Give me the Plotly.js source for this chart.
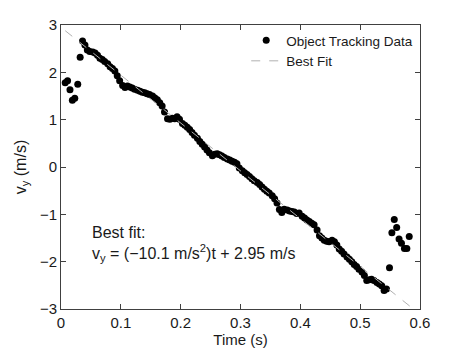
<!DOCTYPE html>
<html>
<head>
<meta charset="utf-8">
<script src="https://cdn.plot.ly/plotly-3.0.1.min.js"></script>
<style>
  html, body { margin: 0; padding: 0; background: #fff; }
  #plot { width: 464px; height: 349px; }
</style>
</head>
<body>
<div id="plot"></div>
<script>
// time (s) of each tracked frame
var time = [
	0.007, 0.011, 0.015, 0.019, 0.023, 0.028, 0.032, 0.036, 0.040, 0.044,
	0.048, 0.053, 0.057, 0.061, 0.065, 0.069, 0.073, 0.078, 0.082, 0.086,
	0.090, 0.094, 0.098, 0.103, 0.107, 0.111, 0.115, 0.119, 0.123, 0.128,
	0.132, 0.136, 0.140, 0.144, 0.148, 0.153, 0.157, 0.161, 0.165, 0.169,
	0.173, 0.178, 0.182, 0.186, 0.190, 0.194, 0.198, 0.203, 0.207, 0.211,
	0.215, 0.219, 0.223, 0.228, 0.232, 0.236, 0.240, 0.244, 0.248, 0.253,
	0.257, 0.261, 0.265, 0.269, 0.273, 0.278, 0.282, 0.286, 0.290, 0.294,
	0.298, 0.303, 0.307, 0.311, 0.315, 0.319, 0.323, 0.328, 0.332, 0.336,
	0.340, 0.344, 0.348, 0.353, 0.357, 0.361, 0.365, 0.369, 0.373, 0.378,
	0.382, 0.386, 0.390, 0.394, 0.398, 0.403, 0.407, 0.411, 0.415, 0.419,
	0.423, 0.428, 0.432, 0.436, 0.440, 0.444, 0.448, 0.453, 0.457, 0.461,
	0.465, 0.469, 0.473, 0.478, 0.482, 0.486, 0.490, 0.494, 0.498, 0.503,
	0.507, 0.511, 0.515, 0.519, 0.523, 0.528, 0.532, 0.536, 0.540, 0.544,
	0.549, 0.553, 0.557, 0.561, 0.565, 0.569, 0.574, 0.578, 0.582
];

// vertical velocity (m/s)
var vy = [
	1.78, 1.82, 1.63, 1.41, 1.45, 1.75, 2.32, 2.66, 2.58, 2.47,
	2.44, 2.43, 2.41, 2.36, 2.30, 2.27, 2.23, 2.18, 2.12, 2.08,
	2.03, 1.93, 1.82, 1.72, 1.68, 1.71, 1.69, 1.67, 1.64, 1.62,
	1.60, 1.58, 1.57, 1.55, 1.53, 1.50, 1.46, 1.42, 1.36, 1.29,
	1.16, 1.02, 1.01, 1.03, 1.02, 1.06, 1.01, 0.92, 0.88, 0.84,
	0.79, 0.73, 0.67, 0.61, 0.54, 0.48, 0.42, 0.36, 0.30, 0.24,
	0.27, 0.28, 0.26, 0.23, 0.20, 0.17, 0.15, 0.12, 0.10, 0.07,
	-0.02, -0.08, -0.12, -0.16, -0.20, -0.25, -0.29, -0.33, -0.37, -0.42,
	-0.47, -0.51, -0.55, -0.61, -0.67, -0.76, -0.90, -0.96, -0.89, -0.91,
	-0.93, -0.94, -0.95, -0.98, -0.97, -1.04, -1.08, -1.12, -1.15, -1.19,
	-1.22, -1.33, -1.45, -1.50, -1.55, -1.57, -1.58, -1.55, -1.58, -1.65,
	-1.73, -1.78, -1.84, -1.90, -1.95, -2.00, -2.06, -2.10, -2.16, -2.22,
	-2.29, -2.40, -2.38, -2.37, -2.40, -2.44, -2.47, -2.51, -2.61, -2.58,
	-2.13, -1.39, -1.11, -1.28, -1.52, -1.61, -1.72, -1.72, -1.47
];

// best fit line  v = -10.1 t + 2.95
var fitT = [0.007, 0.583];
var fitV = [2.88, -2.94];

var xTicks = [0, 0.1, 0.2, 0.3, 0.4, 0.5, 0.6];
var yTicks = [-3, -2, -1, 0, 1, 2, 3];

var fontFam = "Liberation Sans, Arial, sans-serif";

var data = [
	{
		mode: "markers",
		x: time,
		y: vy,
		name: "Object Tracking Data",
		marker: {color: "#000000", size: 7}
	},
	{
		mode: "lines",
		x: fitT,
		y: fitV,
		name: "Best Fit",
		line: {color: "#b0b0b0", width: 1, dash: "dash"}
	}
];

var axisCommon = {
	showgrid: false,
	zeroline: false,
	showline: true,
	linecolor: "#404040",
	linewidth: 1,
	mirror: "ticks",
	ticks: "inside",
	ticklen: 5,
	tickcolor: "#404040",
	tickfont: {family: fontFam, size: 15, color: "#1a1a1a"}
};

var layout = {
	width: 464,
	height: 349,
	autosize: false,
	paper_bgcolor: "#ffffff",
	plot_bgcolor: "#ffffff",
	font: {family: fontFam, color: "#1a1a1a"},
	margin: {l: 61, r: 44, t: 25, b: 40},
	xaxis: Object.assign({}, axisCommon, {
		range: [0, 0.6],
		tickvals: xTicks,
		ticktext: xTicks.map(String),
		title: {text: "Time (s)", font: {family: fontFam, size: 15}, standoff: 2}
	}),
	yaxis: Object.assign({}, axisCommon, {
		range: [-3, 3],
		tickvals: yTicks,
		title: {text: "v<sub>y</sub> (m/s)", font: {family: fontFam, size: 16}, standoff: 9}
	}),
	legend: {
		x: 0.995,
		y: 1.0,
		xanchor: "right",
		yanchor: "top",
		bgcolor: "rgba(255,255,255,0)",
		font: {family: fontFam, size: 13.5},
		tracegroupgap: 0
	},
	annotations: [
		{
			xref: "x", yref: "y",
			x: 0.048, y: -1.17,
			xanchor: "left", yanchor: "top",
			align: "left",
			showarrow: false,
			text: "Best fit:<br>v<sub>y</sub> = (\u221210.1 m/s<sup>2</sup>)t + 2.95 m/s",
			font: {family: fontFam, size: 16, color: "#1a1a1a"}
		}
	],
	showlegend: true
};

Plotly.newPlot("plot", data, layout, {displayModeBar: false, staticPlot: true});
</script>
</body>
</html>
